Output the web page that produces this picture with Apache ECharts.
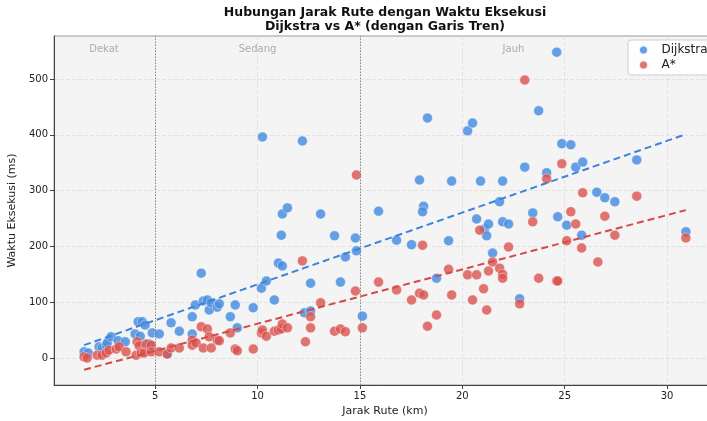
<!DOCTYPE html>
<html><head><meta charset="utf-8">
<script src="https://cdn.jsdelivr.net/npm/echarts@6/dist/echarts.min.js"></script>
<style>html,body{margin:0;padding:0;background:#fff}#c{width:707px;height:421px}</style>
</head><body><div id="c"></div>
<script>
const dijkstraX = [1.53,1.73,2.26,2.41,2.61,2.66,2.85,3.19,3.54,4.02,
  4.27,4.17,4.37,4.51,4.71,4.86,5.2,5.59,5.78,6.18,
  6.81,6.81,6.96,7.25,7.35,7.55,7.64,7.74,8.03,8.13,
  8.67,8.91,9.01,9.79,10.19,10.43,10.24,10.82,11.02,11.21,
  11.16,11.21,11.46,12.19,12.29,12.59,12.59,13.08,13.76,14.05,
  14.29,14.78,14.83,15.12,15.91,16.79,17.52,17.91,18.11,18.06,
  18.3,18.74,19.33,19.48,20.26,20.5,20.7,20.89,21.09,21.28,
  21.19,21.48,21.82,21.97,21.97,22.26,22.8,23.05,23.44,23.73,
  24.12,24.61,24.66,24.86,25.1,25.3,25.54,25.83,25.88,26.57,
  26.96,27.45,28.52,30.92];
const dijkstraY = [11,9,20,18,23,27,38,31,29,43,
  39,65,65,59,25,45,43,7,63,48,
  43,74,95,152,102,104,86,99,91,97,
  74,95,54,90,125,138,396,104,170,165,
  220,258,269,389,81,84,134,258,219,136,
  181,215,192,75,263,211,203,319,272,262,
  430,143,210,317,407,421,249,317,231,240,
  219,188,280,317,244,240,106,342,260,443,
  332,548,253,384,238,382,342,220,351,297,
  287,280,355,226];
const astarX = [1.53,1.68,2.17,2.41,2.61,2.75,3.1,3.24,3.58,4.07,
  4.12,4.22,4.32,4.46,4.56,4.81,4.81,5.2,5.59,5.78,
  6.18,6.81,6.81,7.0,7.25,7.35,7.55,7.64,7.74,8.03,
  8.13,8.67,8.91,9.01,9.79,10.19,10.24,10.43,10.82,11.02,
  11.16,11.21,11.46,12.19,12.34,12.59,12.59,13.08,13.76,14.05,
  14.29,14.78,14.83,15.12,15.91,16.79,17.52,17.91,18.11,18.06,
  18.3,18.74,19.33,19.48,20.26,20.5,20.7,20.85,21.04,21.19,
  21.28,21.48,21.82,21.97,21.97,22.26,22.8,23.05,23.44,23.73,
  24.12,24.61,24.66,24.86,25.1,25.3,25.54,25.83,25.88,26.62,
  26.96,27.45,28.52,30.92];
const astarY = [2,0,5,5,9,14,16,20,11,5,
  29,22,9,9,25,23,11,11,7,18,
  18,32,23,27,56,18,52,38,18,32,
  31,45,16,13,16,45,50,39,48,50,
  52,61,54,174,29,74,54,99,48,52,
  47,120,328,54,136,122,104,116,113,202,
  57,77,159,113,149,104,149,229,124,86,
  156,172,161,150,143,199,97,498,244,143,
  321,138,138,348,210,262,240,197,296,172,
  254,220,290,215];
const trendDijkstraX = [1.53, 30.92];
const trendDijkstraY = [23, 401];
const trendAstarX = [1.53, 30.92];
const trendAstarY = [-21, 265];
const xTicks = [5,10,15,20,25,30];
const yTicks = [0,100,200,300,400,500];
const zoneNames = ['Dekat','Sedang','Jauh'];
const zoneX = [2.5,10,22.5];
const zoneLabelY = 553;
const boundaryX = [5,15];
const seriesNames = ['Dijkstra','A*'];
const titleLines = ['Hubungan Jarak Rute dengan Waktu Eksekusi','Dijkstra vs A* (dengan Garis Tren)'];

const FONT = '"DejaVu Sans", sans-serif';
const zip = (a,b)=>a.map((v,i)=>[v,b[i]]);
const BLUE = '#4a8ee0', RED = '#d9534f';
const chart = echarts.init(document.getElementById('c'), null, {renderer:'canvas'});
const axisCommon = {
  axisLine:{show:true, onZero:false, lineStyle:{color:'#444', width:1}},
  splitLine:{show:true, lineStyle:{color:'#dddddd', type:[4,2], width:0.8}},
};
chart.setOption({
  animation:false,
  backgroundColor:'#fff',
  textStyle:{fontFamily:FONT},
  graphic:[
    {type:'text', x:385, y:13, style:{text:titleLines[0], align:'center', verticalAlign:'middle', fontSize:12.5, fontWeight:'bold', fontFamily:FONT, fill:'#111'}},
    {type:'text', x:385, y:27, style:{text:titleLines[1], align:'center', verticalAlign:'middle', fontSize:12.5, fontWeight:'bold', fontFamily:FONT, fill:'#111'}}
  ],
  grid:{left:54, top:36, width:662, height:349, outerBoundsMode:'none', containLabel:false, show:true, backgroundColor:'#f4f4f4', borderColor:'#999', borderWidth:1},
  legend:{
    data:seriesNames, orient:'vertical', left:628, top:40, icon:'circle',
    itemWidth:26, itemHeight:9, itemGap:3, padding:[4,40,4,10],
    backgroundColor:'rgba(255,255,255,0.9)', borderColor:'#d0d0d0', borderWidth:1, borderRadius:3,
    textStyle:{fontSize:12, color:'#222', fontFamily:FONT}
  },
  xAxis:Object.assign({type:'value', min:0.06, max:32.39,
    axisTick:{show:true, customValues:xTicks, length:4, lineStyle:{color:'#444'}},
    axisLabel:{customValues:xTicks, color:'#222', fontSize:10, margin:6, fontFamily:FONT},
    name:'Jarak Rute (km)', nameLocation:'middle', nameGap:20,
    nameTextStyle:{fontSize:11, color:'#222', fontFamily:FONT}}, axisCommon),
  yAxis:Object.assign({type:'value', min:-48.4, max:577,
    axisTick:{show:true, customValues:yTicks, length:4, lineStyle:{color:'#444'}},
    axisLabel:{customValues:yTicks, color:'#222', fontSize:10, margin:6, fontFamily:FONT},
    name:'Waktu Eksekusi (ms)', nameLocation:'middle', nameGap:29,
    nameTextStyle:{fontSize:11, color:'#222', fontFamily:FONT}}, axisCommon),
  series:[
    {name:'zones', type:'scatter', silent:true, symbolSize:1, itemStyle:{color:'transparent'},
     data:zoneNames.map((n,i)=>({name:n, value:[zoneX[i], zoneLabelY]})),
     label:{show:true, position:'inside', formatter:p=>p.name, color:'#999', fontSize:10, fontFamily:FONT},
     markLine:{silent:true, symbol:['none','none'], label:{show:false},
       lineStyle:{type:[1.5,1.5], color:'#888', width:1},
       data:boundaryX.map(v=>({xAxis:v}))}, z:1},
    {name:seriesNames[0], type:'scatter', symbolSize:10, data:zip(dijkstraX,dijkstraY),
     itemStyle:{color:BLUE, opacity:0.85, borderColor:'#fff', borderWidth:0.5}, z:2},
    {name:seriesNames[1], type:'scatter', symbolSize:10, data:zip(astarX,astarY),
     itemStyle:{color:RED, opacity:0.8, borderColor:'#fff', borderWidth:0.5}, z:3},
    {name:'trendD', type:'line', data:zip(trendDijkstraX,trendDijkstraY), showSymbol:false, silent:true,
     lineStyle:{color:'#3f84d8', width:2, type:[7,4]}, z:4},
    {name:'trendA', type:'line', data:zip(trendAstarX,trendAstarY), showSymbol:false, silent:true,
     lineStyle:{color:'#d64a45', width:2, type:[7,4]}, z:4}
  ]
});
</script></body></html>
